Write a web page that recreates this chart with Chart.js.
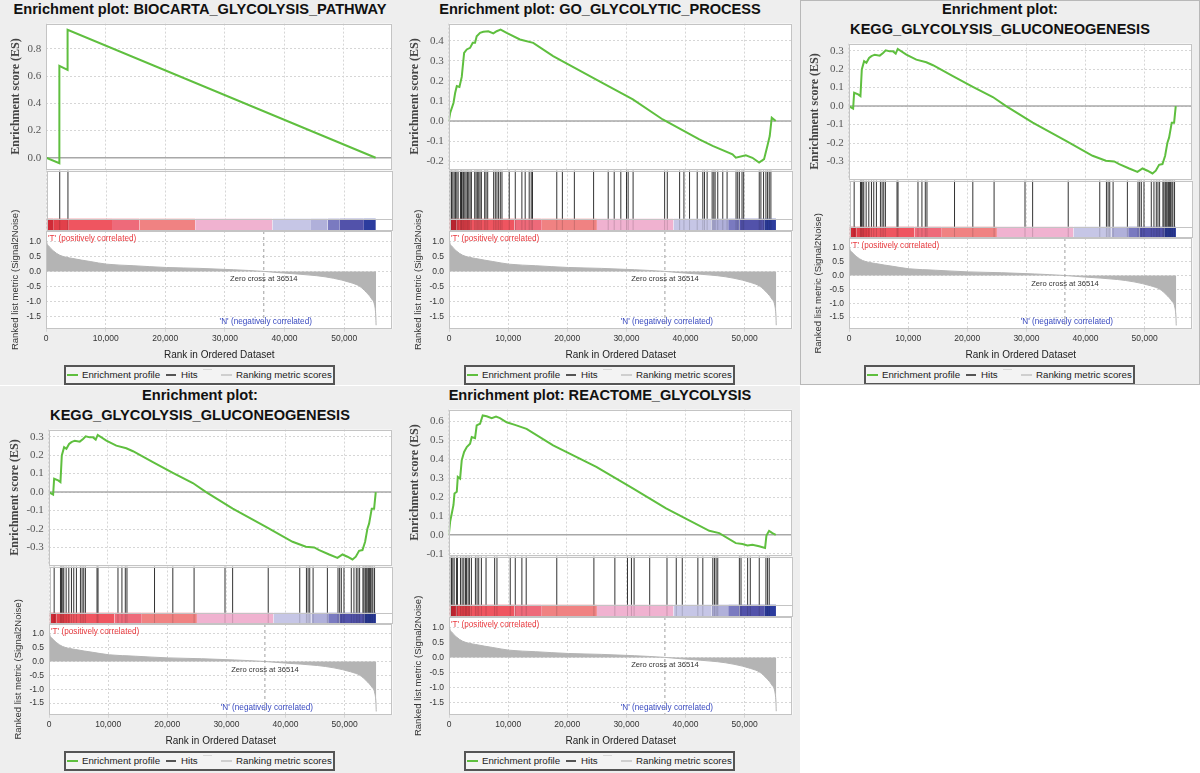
<!DOCTYPE html>
<html>
<head>
<meta charset="utf-8">
<script src="https://cdn.jsdelivr.net/npm/chart.js@4.4.1/dist/chart.umd.min.js"></script>
<style>
  body { margin: 0; width: 1200px; height: 773px; overflow: hidden; position: relative; background: #fff; }
  .panel { position: absolute; background: #eeeeee; overflow: hidden; }
  .panel canvas { position: absolute; }
  .title { position: absolute; left: 0; right: 0; top: 0; text-align: center; white-space: nowrap;
           font: bold 14.6px "Liberation Sans", Arial, sans-serif; line-height: 19.7px; color: #111; }
  .legend { position: absolute; left: 64px; top: 365px; width: 267px; height: 16px; border: 2px solid #555;
            background: #f3f3f3; font: 9.7px "Liberation Sans", Arial, sans-serif; color: #222; }
  .legend span { position: absolute; top: 0; line-height: 16px; white-space: nowrap; }
  .legend i { position: absolute; top: 7px; height: 2px; width: 11px; }
  .frame { position: absolute; border: 1px solid #b8b8b8; box-sizing: border-box; pointer-events: none; }
</style>
</head>
<body>
<script>
// GSEA enrichment plots, five gene sets

const X_MAX = 58100;
const ZERO_CROSS = 36514;
const xTicks = [0, 10000, 20000, 30000, 40000, 50000];

// BIOCARTA_GLYCOLYSIS_PATHWAY
const p1Ranks = [0, 2220, 2220, 3600, 3600, 55350];
const p1Es = [0, -0.04, 0.675, 0.645, 0.94, 0];
const p1Hits = [2220, 3600];

// GO_GLYCOLYTIC_PROCESS
const p2Ranks = [0, 225, 790, 1070, 1350, 1800, 2190, 2590, 3040, 3600, 4050, 4440, 4720, 5290, 5850, 6690, 7540, 8100, 8770, 9790,
  12040, 14290, 17660, 24970, 31160, 36220, 42410, 44660, 48030, 48590, 50280, 51400, 52530, 53370, 53930, 54330, 54670, 55350];
const p2Es = [0, 0.04, 0.09, 0.14, 0.175, 0.17, 0.22, 0.34, 0.357, 0.365, 0.39, 0.39, 0.423, 0.44, 0.445, 0.448, 0.437, 0.448, 0.456, 0.44,
  0.407, 0.39, 0.324, 0.207, 0.108, 0.008, -0.091, -0.124, -0.166, -0.183, -0.171, -0.183, -0.207, -0.19, -0.124, -0.075, 0.017, 0];
const p2Hits = [110, 340, 560, 790, 1010, 1240, 1460, 1860, 2030, 2140, 2360, 2590, 2810, 3040, 3260, 3490, 3710, 4270, 4500, 4720,
  4950, 5170, 5400, 5960, 6190, 6470, 7480, 7760, 8040, 8320, 8610, 8890, 10120, 11140, 12260, 12820, 13500, 13840, 14060, 18170,
  19120, 21150, 24410, 26880, 27900, 29020, 29980, 30260, 31100, 36440, 36890, 38980, 39710, 40660, 41960, 42910, 43190, 43640, 44490,
  44770, 44990, 45440, 46290, 47020, 48540, 48820, 49100, 49550, 49830, 52470, 52750, 53200, 53600, 53880, 54160, 54440];

// KEGG_GLYCOLYSIS_GLUCONEOGENESIS (shown twice)
const p3Ranks = [0, 730, 900, 1580, 1970, 2200, 2590, 2980, 3430, 3830, 4390, 5240, 5800, 6250, 6930, 7490, 7940, 8280, 9740, 11430,
  13120, 14250, 17620, 21000, 24380, 26630, 31140, 36770, 41270, 43520, 44930, 45780, 47470, 48870, 49720, 50560, 51410, 51970, 52530,
  53100, 53550, 53940, 54220, 54670, 55070, 55350];
const p3Es = [0, -0.014, 0.072, 0.063, 0.054, 0.198, 0.243, 0.234, 0.26, 0.27, 0.278, 0.273, 0.287, 0.302, 0.296, 0.296, 0.284, 0.309, 0.278, 0.251,
  0.237, 0.221, 0.162, 0.104, 0.049, 0, -0.09, -0.189, -0.269, -0.296, -0.3, -0.314, -0.338, -0.356, -0.338, -0.35, -0.365, -0.35, -0.318,
  -0.314, -0.269, -0.198, -0.171, -0.09, -0.09, 0];
const p3Hits = [790, 1860, 2030, 2250, 2420, 2820, 3270, 3720, 4110, 4560, 5240, 5520, 5800, 6080, 8050, 8220, 11600, 12270, 12840, 13120,
  17790, 20890, 24490, 29730, 31020, 37050, 42390, 43520, 43800, 44080, 44650, 47070, 48870, 49150, 49430, 49880, 51120, 51570, 51970,
  52250, 52530, 53090, 53260, 53490, 53650, 53820, 54050, 54220, 54390, 54610, 54780, 55060];

// REACTOME_GLYCOLYSIS
const p5Ranks = [0, 225, 510, 790, 960, 1350, 1520, 1910, 2190, 2590, 3040, 3600, 3880, 4440, 4720, 5290, 5740, 6410, 7260, 7990,
  8660, 9790, 11190, 13160, 17660, 24970, 31160, 36780, 44100, 45780, 48590, 49720, 50560, 51400, 52530, 53540, 53770, 54220, 54780, 55350];
const p5Es = [0, 0.07, 0.114, 0.158, 0.219, 0.228, 0.307, 0.298, 0.395, 0.439, 0.465, 0.482, 0.518, 0.512, 0.579, 0.588, 0.632, 0.628, 0.618, 0.626,
  0.618, 0.596, 0.582, 0.561, 0.474, 0.36, 0.246, 0.14, 0.021, 0.009, -0.044, -0.049, -0.056, -0.053, -0.061, -0.07, -0.004, 0.021, 0.009, 0];
const p5Hits = [110, 340, 560, 790, 1180, 1350, 1860, 2140, 2420, 2700, 2870, 3150, 3370, 3710, 4390, 4670, 4950, 5400, 6190, 7650,
  8040, 10290, 11140, 12260, 12990, 18170, 24460, 28010, 30150, 30820, 31270, 33910, 36840, 38410, 39430, 42070, 42910, 44600, 44880,
  45160, 45440, 49100, 49380, 50500, 50950, 52470, 53600, 53880, 54160];

// ranked list metric (same ranking for every gene set)
const metricRanks = [0, 100, 400, 1200, 2300, 4500, 7400, 10200, 14600, 20200, 25800, 31400, 36514, 39800, 45400, 48200, 51000, 52600,
  53700, 54600, 55100, 55300, 55350];
const metricValues = [1.3, 1.0, 0.86, 0.69, 0.54, 0.43, 0.33, 0.24, 0.19, 0.13, 0.10, 0.055, 0, -0.055, -0.145, -0.23, -0.37, -0.5,
  -0.7, -0.92, -1.14, -1.5, -1.8];

// colour bar under the hits
const barEdges = [0, 1230, 3630, 11000, 15640, 24970, 37930, 44410, 47200, 49160, 53300, 55300];
const barColors = ['#cf2a36', '#e2404a', '#ef5560', '#ee6a7a', '#f08282', '#f0b2d0', '#c6c6e6', '#b0b0da', '#7a7ac0', '#5252aa', '#2c3c9e'];

// vertical layout inside a panel: [top, bottom] of each plot area
const LAYOUTS = {
  one: { es: [24, 170], hits: [170, 231], bar: 12, metric: [231, 329] },
  two: { es: [44, 180], hits: [180, 238], bar: 11, metric: [238, 329] }
};

const PANELS = [
  { x: 0, y: 0, h: 385, title: ['Enrichment plot: BIOCARTA_GLYCOLYSIS_PATHWAY'], layout: 'one', left: 46,
    ranks: p1Ranks, es: p1Es, hits: p1Hits, esMin: -0.086, esMax: 0.986, esStep: 0.2 },
  { x: 400, y: 0, h: 385, title: ['Enrichment plot: GO_GLYCOLYTIC_PROCESS'], layout: 'one', left: 49,
    ranks: p2Ranks, es: p2Es, hits: p2Hits, esMin: -0.241, esMax: 0.486, esStep: 0.1 },
  { x: 800, y: 0, h: 385, title: ['Enrichment plot:', 'KEGG_GLYCOLYSIS_GLUCONEOGENESIS'], layout: 'two', left: 49, framed: true,
    ranks: p3Ranks, es: p3Es, hits: p3Hits, esMin: -0.397, esMax: 0.338, esStep: 0.1 },
  { x: 0, y: 386, h: 387, title: ['Enrichment plot:', 'KEGG_GLYCOLYSIS_GLUCONEOGENESIS'], layout: 'two', left: 49,
    ranks: p3Ranks, es: p3Es, hits: p3Hits, esMin: -0.397, esMax: 0.338, esStep: 0.1 },
  { x: 400, y: 386, h: 387, title: ['Enrichment plot: REACTOME_GLYCOLYSIS'], layout: 'one', left: 49,
    ranks: p5Ranks, es: p5Es, hits: p5Hits, esMin: -0.109, esMax: 0.663, esStep: 0.1 }
];

Chart.defaults.font.family = '"Liberation Sans", Arial, sans-serif';
Chart.defaults.animation = false;

const pts = (xs, ys) => xs.map((x, i) => ({ x, y: ys[i] }));
const fmt1 = v => (Math.abs(v) < 1e-9 ? '0.0' : v.toFixed(1));

// white plot background, frame, zero line and the annotations of the metric plot
Chart.register({
  id: 'gsea',
  defaults: {},
  beforeDraw(chart) {
    const { ctx, chartArea: a } = chart;
    ctx.save();
    ctx.fillStyle = '#ffffff';
    ctx.fillRect(a.left, a.top, a.right - a.left, a.bottom - a.top);
    ctx.restore();
  },
  beforeDatasetsDraw(chart, args, o) {
    if (!o.zeroLine) return;
    const { ctx, chartArea: a, scales } = chart;
    const py = scales.y.getPixelForValue(0);
    ctx.save();
    ctx.strokeStyle = '#a8a8a8';
    ctx.lineWidth = 1.5;
    ctx.beginPath();
    ctx.moveTo(a.left, py);
    ctx.lineTo(a.right, py);
    ctx.stroke();
    ctx.restore();
  },
  afterDatasetsDraw(chart, args, o) {
    const { ctx, chartArea: a, scales } = chart;
    ctx.save();
    if (o.barTop !== undefined) {
      const py = Math.round(scales.y.getPixelForValue(o.barTop)) + 0.5;
      ctx.strokeStyle = '#c4c4c4';
      ctx.lineWidth = 1;
      ctx.beginPath();
      ctx.moveTo(a.left, py);
      ctx.lineTo(a.right, py);
      ctx.stroke();
    }
    if (o.zeroCross !== undefined) {
      const px = scales.x.getPixelForValue(o.zeroCross);
      ctx.strokeStyle = '#a0a0a0';
      ctx.lineWidth = 1;
      ctx.setLineDash([3, 3]);
      ctx.beginPath();
      ctx.moveTo(px, a.top);
      ctx.lineTo(px, a.bottom);
      ctx.stroke();
      ctx.setLineDash([]);
      ctx.textBaseline = 'middle';
      ctx.font = '8.2px "Liberation Sans", Arial, sans-serif';
      ctx.textAlign = 'left';
      ctx.fillStyle = '#e8383d';
      ctx.fillText("'T' (positively correlated)", a.left + 2, a.top + 8);
      ctx.textAlign = 'center';
      ctx.fillStyle = '#3a4bc0';
      ctx.fillText("'N' (negatively correlated)", px + 2, a.bottom - 7);
      ctx.font = '7.6px "Liberation Sans", Arial, sans-serif';
      ctx.fillStyle = '#333';
      ctx.fillText('Zero cross at ' + o.zeroCross, px, scales.y.getPixelForValue(0) + 8);
    }
    ctx.strokeStyle = '#c4c4c4';
    ctx.lineWidth = 1;
    ctx.strokeRect(Math.round(a.left) + 0.5, Math.round(a.top) + 0.5, Math.round(a.right - a.left) - 1, Math.round(a.bottom - a.top) - 1);
    ctx.restore();
  }
});

function xScale(showTicks) {
  return {
    type: 'linear', min: 0, max: X_MAX,
    afterBuildTicks: scale => { scale.ticks = xTicks.map(v => ({ value: v })); },
    ticks: {
      display: showTicks, autoSkip: false, maxRotation: 0,
      font: { size: 8.5 }, color: '#333', padding: 2,
      callback: v => v.toLocaleString('en-US')
    },
    grid: { color: '#d6d6d6', drawTicks: showTicks, tickLength: 3 },
    border: { display: false, dash: [2, 2] },
    title: { display: showTicks, text: 'Rank in Ordered Dataset', font: { size: 10 }, color: '#222', padding: { top: 3, bottom: 0 } }
  };
}

// create a chart and move/resize its canvas so the plot area lands on rect
function makeChart(parent, rect, config) {
  const cv = document.createElement('canvas');
  cv.width = rect.w + 100;
  cv.height = rect.h + 90;
  parent.appendChild(cv);
  config.options.responsive = false;
  config.options.maintainAspectRatio = false;
  config.options.animation = false;
  config.options.events = [];
  config.options.plugins = Object.assign({ legend: { display: false }, tooltip: { enabled: false } }, config.options.plugins);
  const chart = new Chart(cv, config);
  let a = chart.chartArea;
  chart.resize(Math.round(rect.w + a.left + chart.width - a.right), Math.round(rect.h + a.top + chart.height - a.bottom));
  a = chart.chartArea;
  cv.style.left = (rect.x - a.left) + 'px';
  cv.style.top = (rect.y - a.top) + 'px';
  return chart;
}

function buildPanel(p) {
  const el = document.createElement('div');
  el.className = 'panel';
  Object.assign(el.style, { left: p.x + 'px', top: p.y + 'px', width: '400px', height: p.h + 'px' });
  document.body.appendChild(el);

  const t = document.createElement('div');
  t.className = 'title';
  p.title.forEach(line => {
    const d = document.createElement('div');
    d.textContent = line;
    t.appendChild(d);
  });
  el.appendChild(t);

  const L = LAYOUTS[p.layout];
  const right = 393;
  const w = right - p.left;

  // enrichment score profile
  makeChart(el, { x: p.left, y: L.es[0], w, h: L.es[1] - L.es[0] }, {
    type: 'line',
    data: {
      datasets: [{
        data: pts(p.ranks, p.es), borderColor: '#5fbf3f', borderWidth: 2, pointRadius: 0, tension: 0
      }]
    },
    options: {
      plugins: { gsea: { zeroLine: true } },
      scales: {
        x: xScale(false),
        y: {
          min: p.esMin, max: p.esMax,
          ticks: { stepSize: p.esStep, includeBounds: false, font: { family: '"Liberation Serif", serif', size: 11 }, color: '#555', padding: 5, callback: fmt1 },
          grid: { color: '#d6d6d6', drawTicks: false },
          border: { display: false, dash: [2, 2] },
          title: { display: true, text: 'Enrichment score (ES)', font: { family: '"Liberation Serif", serif', size: 12, weight: 'bold' }, color: '#444', padding: { top: 0, bottom: -1 } }
        }
      }
    }
  });

  // hits + colour bar
  const hitsH = L.hits[1] - L.hits[0];
  const barFrac = L.bar / hitsH;
  const hitLines = [], hitShade = [];
  p.hits.forEach(h => {
    hitLines.push({ x: h, y: barFrac }, { x: h, y: 1 }, { x: h, y: null });
    hitShade.push({ x: h, y: 0 }, { x: h, y: barFrac }, { x: h, y: null });
  });
  const barSets = barColors.map((c, i) => ({
    data: [{ x: barEdges[i], y: barFrac }, { x: barEdges[i + 1], y: barFrac }],
    fill: 'origin', backgroundColor: c, borderWidth: 0, pointRadius: 0
  }));
  makeChart(el, { x: p.left, y: L.hits[0], w, h: hitsH }, {
    type: 'line',
    data: {
      datasets: [
        { data: hitShade, borderColor: 'rgba(0,0,0,0.16)', borderWidth: 1, pointRadius: 0, spanGaps: false },
        { data: hitLines, borderColor: 'rgba(15,15,15,0.85)', borderWidth: 1, pointRadius: 0, spanGaps: false },
        ...barSets
      ]
    },
    options: {
      plugins: { gsea: { barTop: barFrac } },
      scales: {
        x: xScale(false),
        y: { min: 0, max: 1, display: false }
      }
    }
  });

  // ranked list metric
  makeChart(el, { x: p.left, y: L.metric[0], w, h: L.metric[1] - L.metric[0] }, {
    type: 'line',
    data: {
      datasets: [{
        data: pts(metricRanks, metricValues), fill: 'origin', backgroundColor: '#b4b4b4', borderColor: '#b4b4b4',
        borderWidth: 1, pointRadius: 0, cubicInterpolationMode: 'monotone'
      }]
    },
    options: {
      layout: { padding: { top: 32 } },
      plugins: { gsea: { zeroCross: ZERO_CROSS } },
      scales: {
        x: xScale(true),
        y: {
          min: -1.92, max: 1.35,
          ticks: { stepSize: 0.5, includeBounds: false, font: { size: 8.5 }, color: '#333', padding: 5, callback: fmt1 },
          grid: { color: '#d6d6d6', drawTicks: false },
          border: { display: false, dash: [2, 2] },
          title: { display: true, text: 'Ranked list metric (Signal2Noise)', font: { size: 9.5 }, color: '#333', padding: 0 }
        }
      }
    }
  });

  // legend box
  const lg = document.createElement('div');
  lg.className = 'legend';
  lg.innerHTML =
    '<i style="left:1px;background:#5fbf3f"></i><span style="left:16px">Enrichment profile</span>' +
    '<i style="left:100px;width:10px;background:#555"></i><span style="left:115px">Hits</span>' +
    '<i style="left:137px;top:2px;width:9px;height:1px;background:#d8d8d8"></i>' +
    '<i style="left:155px;background:#cfcfcf"></i><span style="left:170px">Ranking metric scores</span>';
  el.appendChild(lg);

  if (p.framed) {
    const f = document.createElement('div');
    f.className = 'frame';
    Object.assign(f.style, { left: '0px', top: '0px', width: '400px', height: p.h + 'px' });
    el.appendChild(f);
  }
}

PANELS.forEach(buildPanel);
</script>
</body>
</html>
